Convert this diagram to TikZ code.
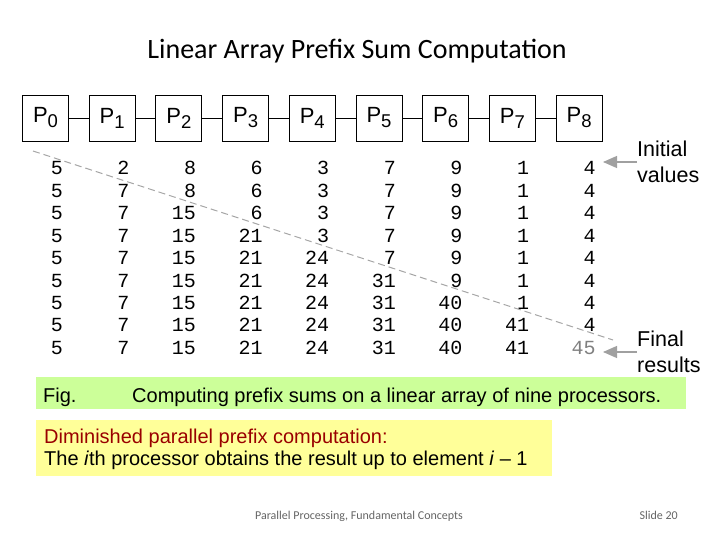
\documentclass[tikz,border=0pt]{standalone}
\usepackage{fontspec}
\setmainfont{Liberation Sans}
\newfontfamily\calfont{Carlito}
\newfontfamily\monofont{Liberation Mono}
\usetikzlibrary{arrows.meta}
\definecolor{figgreen}{RGB}{204,255,153}
\definecolor{noteyellow}{RGB}{255,255,153}
\definecolor{notered}{RGB}{153,0,0}
\definecolor{arrowgray}{RGB}{160,160,160}
\definecolor{footgray}{RGB}{100,100,100}
\tikzset{
  procbox/.style={draw=black, line width=0.9pt, minimum width=46pt, minimum height=46pt, inner sep=0pt},
  link/.style={draw=black, line width=0.9pt},
  numtxt/.style={anchor=base east, inner sep=0pt, font=\monofont\fontsize{20}{20}\selectfont},
  labeltxt/.style={anchor=west, inner sep=0pt, align=left, font=\fontsize{21.5}{26}\selectfont},
  pointer/.style={draw=arrowgray, line width=1.2pt, -{Triangle[length=14pt,width=12pt]}},
  diag/.style={draw=gray!70, line width=1pt, dash pattern=on 7pt off 4pt},
  bodytxt/.style={anchor=base west, inner sep=0pt, font=\fontsize{20}{20}\selectfont}
}
\newcommand{\procname}[1]{{\fontsize{22}{22}\selectfont P\raisebox{-5pt}{\fontsize{18.5}{18.5}\selectfont #1}}}
\begin{document}
\begin{tikzpicture}[x=1pt,y=-1pt]
\useasboundingbox (0,0) rectangle (720,540);
% title
\node[font=\calfont\fontsize{28}{28}\selectfont, anchor=base] (title) at (357,59) {Linear Array Prefix Sum Computation};
% processors
\foreach \i in {0,...,8} {
  \node[procbox] (p\i) at ({45.5+66.7*\i},118) {\procname{\i}};
}
\foreach \i [evaluate=\i as \j using int(\i+1)] in {0,...,7} {
  \draw[link] (p\i.east) -- (p\j.west);
}
% number table
\foreach \row [count=\r from 0] in {
  {5,2,8,6,3,7,9,1,4},
  {5,7,8,6,3,7,9,1,4},
  {5,7,15,6,3,7,9,1,4},
  {5,7,15,21,3,7,9,1,4},
  {5,7,15,21,24,7,9,1,4},
  {5,7,15,21,24,31,9,1,4},
  {5,7,15,21,24,31,40,1,4},
  {5,7,15,21,24,31,40,41,4}} {
  \foreach \v [count=\c from 0] in \row {
    \node[numtxt] (n\r-\c) at ({63+66.6*\c},{175+22.4*\r}) {\v};
  }
}
\foreach \v [count=\c from 0] in {5,7,15,21,24,31,40,41} {
  \node[numtxt] (n8-\c) at ({63+66.6*\c},{175+22.4*8}) {\v};
}
\node[numtxt, text=gray] (n8-8) at ({63+66.6*8},{175+22.4*8}) {45};
% diagonal dashed line
\coordinate (dstart) at (33,151);
\coordinate (dend) at (613,340);
\draw[diag] (dstart) -- (dend);
% labels
\node[labeltxt] (initlab) at (637,162) {Initial\\values};
\node[labeltxt] (finallab) at (637,352) {Final\\results};
\coordinate (inittip) at (603,162);
\coordinate (finaltip) at (603,352);
\draw[pointer] (initlab.west) -- (inittip);
\draw[pointer] (finallab.west) -- (finaltip);
% caption box
\node[fill=figgreen, minimum width=650pt, minimum height=32pt, inner sep=0pt, anchor=north west] (figbox) at (36,377) {};
\node[bodytxt] (figlab) at (43,402) {Fig.};
\node[bodytxt] (figcap) at (132,402) {Computing prefix sums on a linear array of nine processors.};
% note box
\node[fill=noteyellow, minimum width=516pt, minimum height=56pt, inner sep=0pt, anchor=north west] (notebox) at (36,420) {};
\node[bodytxt, text=notered] (note1) at (44,443) {Diminished parallel prefix computation:};
\node[bodytxt] (note2) at (44,465) {The \textit{i}th processor obtains the result up to element \textit{i} – 1};
% footer
\node[anchor=base, inner sep=0pt, text=footgray, font=\calfont\fontsize{12}{12}\selectfont] (foot) at (359,519) {Parallel Processing, Fundamental Concepts};
\node[anchor=base east, inner sep=0pt, text=footgray, font=\calfont\fontsize{12}{12}\selectfont] (slide) at (678,519) {Slide 20};
\end{tikzpicture}
\end{document}
